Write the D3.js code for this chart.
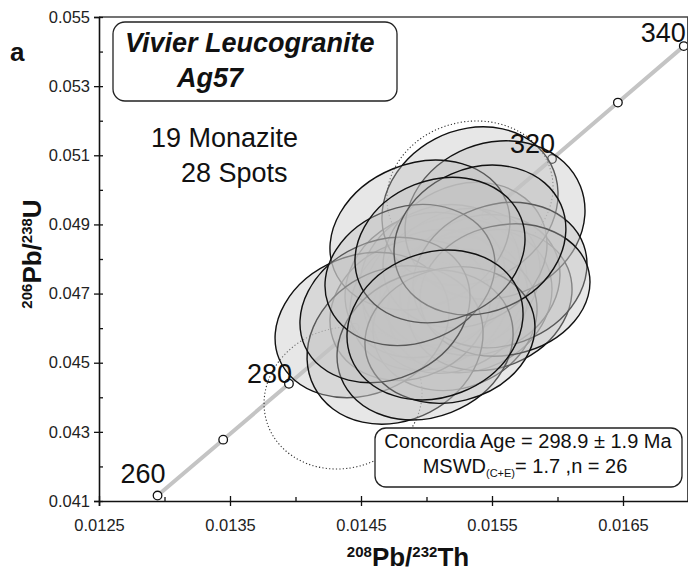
<!DOCTYPE html>
<html lang="en">
<head>
  <meta charset="UTF-8">
  <title>Vivier Leucogranite Ag57 concordia</title>
  <style>
    body { margin: 0; background: #fff; }
    svg text { font-family: "Liberation Sans", Arial, sans-serif; }
  </style>
</head>
<body>
  <div id="svg"></div>
  <script src="https://d3js.org/d3.v7.min.js"></script>
  <script>
// concordia curve (Ma) and its ratios
const ages = [260, 270, 280, 290, 300, 310, 320, 330, 340]
const concTh = [0.012947, 0.013448, 0.013950, 0.014451, 0.014953, 0.015456, 0.015958, 0.016461, 0.016964]
const concU = [0.041157, 0.042774, 0.044392, 0.046013, 0.047637, 0.049264, 0.050893, 0.052524, 0.054158]
const labelAges = [260, 280, 320, 340]

// spot analyses: 208Pb/232Th, 206Pb/238U, 2s errors, rho, used in age
const spotTh = [0.015141, 0.015256, 0.015027, 0.015332, 0.015179, 0.015103, 0.015408, 0.014989,
  0.015218, 0.015485, 0.014874, 0.015294, 0.015332, 0.015523, 0.014950, 0.015561,
  0.015599, 0.014508, 0.014760, 0.014989, 0.015179, 0.014683, 0.014874, 0.015408,
  0.015103, 0.015065, 0.015332, 0.014363]
const spotU = [0.047103, 0.047393, 0.046814, 0.046814, 0.046670, 0.047537, 0.047248, 0.047248,
  0.046236, 0.046814, 0.046525, 0.048116, 0.049533, 0.049128, 0.048694, 0.047537,
  0.047103, 0.046091, 0.045512, 0.045512, 0.045802, 0.046525, 0.047537, 0.048550,
  0.048260, 0.046091, 0.049909, 0.043979]
const spotSTh = [0.000626, 0.000611, 0.000611, 0.000626, 0.000595, 0.000611, 0.000611, 0.000611,
  0.000626, 0.000626, 0.000611, 0.000626, 0.000672, 0.000687, 0.000687, 0.000664,
  0.000649, 0.000664, 0.000672, 0.000672, 0.000649, 0.000649, 0.000649, 0.000656,
  0.000649, 0.000672, 0.000634, 0.000603]
const spotSU = [0.002100, 0.002068, 0.002036, 0.002100, 0.001972, 0.002036, 0.002036, 0.002100,
  0.002036, 0.002036, 0.002036, 0.002100, 0.002291, 0.002291, 0.002164, 0.002100,
  0.001910, 0.002100, 0.002291, 0.002164, 0.001972, 0.002100, 0.002036, 0.002164,
  0.002100, 0.002164, 0.002083, 0.002054]
const spotRho = [0.15, 0.15, 0.15, 0.15, 0.15, 0.15, 0.15, 0.15,
  0.15, 0.15, 0.15, 0.15, 0.15, 0.12, 0.18, 0.15,
  0.12, 0.18, 0.15, 0.15, 0.12, 0.18, 0.15, 0.15,
  0.15, 0.15, 0.08, 0.08]
const spotUsed = [1, 1, 1, 1, 1, 1, 1, 1, 1, 1, 1, 1, 1, 1, 1, 1,
  1, 1, 1, 1, 1, 1, 1, 1, 1, 1, 0, 0]

const xTicks = [0.0125, 0.0135, 0.0145, 0.0155, 0.0165]
const xMinor = [0.0130, 0.0140, 0.0150, 0.0160, 0.0170]
const yTicks = [0.041, 0.043, 0.045, 0.047, 0.049, 0.051, 0.053, 0.055]
const yMinor = [0.042, 0.044, 0.046, 0.048, 0.050, 0.052, 0.054]

const W = 688, H = 575
const margin = {left: 99, right: 688.5, top: 17, bottom: 501}

const svg = d3.select('#svg').append('svg')
  .attr('width', W)
  .attr('height', H)

const x = d3.scaleLinear().domain([0.0125, 0.0170]).range([margin.left, margin.right])
const y = d3.scaleLinear().domain([0.041, 0.055]).range([margin.bottom, margin.top])

svg.append('clipPath').attr('id', 'plot')
  .append('rect')
    .attr('x', margin.left).attr('y', margin.top)
    .attr('width', margin.right - margin.left).attr('height', margin.bottom - margin.top)

// concordia
const conc = ages.map((a, i) => ({age: a, th: concTh[i], u: concU[i]}))
const plot = svg.append('g').attr('clip-path', 'url(#plot)')

plot.append('path')
  .datum(conc)
  .attr('d', d3.line().x(d => x(d.th)).y(d => y(d.u)))
  .attr('fill', 'none')
  .attr('stroke', '#c4c4c4')
  .attr('stroke-width', 4)

plot.selectAll('circle.age')
  .data(conc)
  .enter()
  .append('circle')
    .attr('class', 'age')
    .attr('cx', d => x(d.th))
    .attr('cy', d => y(d.u))
    .attr('r', 4.3)
    .attr('fill', '#fff')
    .attr('stroke', '#111')
    .attr('stroke-width', 1.3)

// label offsets relative to the marker
const labelOff = {260: [8, -13], 280: [3, -1], 320: [3, -6], 340: [2, -4]}
svg.selectAll('text.age')
  .data(conc.filter(d => labelAges.includes(d.age)))
  .enter()
  .append('text')
    .attr('class', 'age')
    .attr('x', d => x(d.th) + labelOff[d.age][0])
    .attr('y', d => y(d.u) + labelOff[d.age][1])
    .attr('text-anchor', 'end')
    .attr('font-size', 27)
    .attr('fill', '#111')
    .text(d => d.age)

// error ellipses
const spots = spotTh.map((v, i) => ({th: v, u: spotU[i], sth: spotSTh[i], su: spotSU[i], rho: spotRho[i], used: spotUsed[i]}))

function ellipse(d) {
  const sx = Math.abs(x(d.th + d.sth) - x(d.th))
  const sy = Math.abs(y(d.u + d.su) - y(d.u))
  const a = sx * sx, c = sy * sy, b = -d.rho * sx * sy
  const m = (a + c) / 2, r = Math.sqrt(((a - c) / 2) ** 2 + b * b)
  return {rx: Math.sqrt(m + r), ry: Math.sqrt(m - r), ang: 0.5 * Math.atan2(2 * b, a - c) * 180 / Math.PI}
}

const ellG = plot.append('g')
const ordered = spots.filter(d => !d.used).concat(spots.filter(d => d.used))
ordered.forEach(d => {
  const e = ellipse(d)
  ellG.append('ellipse')
    .attr('transform', `translate(${x(d.th)},${y(d.u)}) rotate(${e.ang})`)
    .attr('rx', e.rx)
    .attr('ry', e.ry)
    .attr('fill', d.used ? '#c4c4c4' : 'none')
    .attr('fill-opacity', 0.4)
    .attr('stroke', d.used ? '#111' : '#333')
    .attr('stroke-width', d.used ? 1.4 : 1.1)
    .attr('stroke-dasharray', d.used ? null : '1.2,2.2')
})

// frame
svg.append('line').attr('x1', margin.left).attr('x2', W).attr('y1', margin.top).attr('y2', margin.top)
  .attr('stroke', '#444').attr('stroke-width', 1.3)
svg.append('line').attr('x1', margin.right - 0.8).attr('x2', margin.right - 0.8)
  .attr('y1', margin.top).attr('y2', margin.bottom)
  .attr('stroke', '#444').attr('stroke-width', 1.3)

// axes
const xAxis = svg.append('g')
  .attr('transform', `translate(0,${margin.bottom})`)
  .call(d3.axisBottom(x).tickValues(xTicks).tickSize(5).tickPadding(13).tickFormat(d3.format('.4f')))
xAxis.selectAll('.tick line').attr('y1', -5)
svg.append('g')
  .attr('transform', `translate(0,${margin.bottom})`)
  .call(d3.axisBottom(x).tickValues(xMinor).tickSize(-4).tickFormat(''))
  .call(g => g.select('.domain').remove())

const yAxis = svg.append('g')
  .attr('transform', `translate(${margin.left},0)`)
  .call(d3.axisLeft(y).tickValues(yTicks).tickSize(5).tickPadding(4).tickFormat(d3.format('.3f')))
yAxis.selectAll('.tick line').attr('x1', 4)
svg.append('g')
  .attr('transform', `translate(${margin.left},0)`)
  .call(d3.axisLeft(y).tickValues(yMinor).tickSize(-4).tickFormat(''))
  .call(g => g.select('.domain').remove())

svg.selectAll('.domain').attr('stroke', '#111').attr('stroke-width', 1.6)
svg.selectAll('.tick line').attr('stroke', '#111').attr('stroke-width', 1.3)
svg.selectAll('.tick text')
  .attr('font-family', '"Liberation Sans", Arial, sans-serif')
  .attr('font-size', 16.5)
  .attr('fill', '#222')

// axis titles
const xt = svg.append('text')
  .attr('x', 408).attr('y', 566)
  .attr('text-anchor', 'middle')
  .attr('font-weight', 'bold')
  .attr('fill', '#111')
xt.append('tspan').attr('font-size', 15).attr('dy', -9).text('208')
xt.append('tspan').attr('font-size', 26).attr('dy', 9).text('Pb/')
xt.append('tspan').attr('font-size', 15).attr('dy', -9).text('232')
xt.append('tspan').attr('font-size', 26).attr('dy', 9).text('Th')

const yt = svg.append('text')
  .attr('transform', 'translate(41,254) rotate(-90)')
  .attr('text-anchor', 'middle')
  .attr('font-weight', 'bold')
  .attr('fill', '#111')
yt.append('tspan').attr('font-size', 15).attr('dy', -9).text('206')
yt.append('tspan').attr('font-size', 26).attr('dy', 9).text('Pb/')
yt.append('tspan').attr('font-size', 15).attr('dy', -9).text('238')
yt.append('tspan').attr('font-size', 26).attr('dy', 9).text('U')

// panel letter
svg.append('text').attr('x', 10).attr('y', 61)
  .attr('font-size', 26).attr('font-weight', 'bold').attr('fill', '#111').text('a')

// sample box
svg.append('rect').attr('x', 113).attr('y', 22).attr('width', 284).attr('height', 79).attr('rx', 12)
  .attr('fill', '#fff').attr('stroke', '#222').attr('stroke-width', 1.3)
svg.append('text').attr('x', 125).attr('y', 52)
  .attr('font-size', 27).attr('font-weight', 'bold').attr('font-style', 'italic').attr('fill', '#111')
  .text('Vivier Leucogranite')
svg.append('text').attr('x', 177).attr('y', 87)
  .attr('font-size', 27).attr('font-weight', 'bold').attr('font-style', 'italic').attr('fill', '#111')
  .text('Ag57')

svg.append('text').attr('x', 151).attr('y', 147)
  .attr('font-size', 27).attr('fill', '#111').text('19 Monazite')
svg.append('text').attr('x', 181).attr('y', 182)
  .attr('font-size', 27).attr('fill', '#111').text('28 Spots')

// age box
svg.append('rect').attr('x', 375).attr('y', 428).attr('width', 307).attr('height', 59).attr('rx', 11)
  .attr('fill', '#fff').attr('stroke', '#222').attr('stroke-width', 1.3)
svg.append('text').attr('x', 528).attr('y', 448)
  .attr('text-anchor', 'middle').attr('font-size', 20).attr('fill', '#111')
  .text('Concordia Age = 298.9 ± 1.9 Ma')
const ms = svg.append('text').attr('x', 525).attr('y', 473)
  .attr('text-anchor', 'middle').attr('font-size', 20).attr('fill', '#111')
ms.append('tspan').text('MSWD')
ms.append('tspan').attr('font-size', 11).attr('dy', 4).text('(C+E)')
ms.append('tspan').attr('dy', -4).text('= 1.7 ,n  = 26')
  </script>
</body>
</html>
